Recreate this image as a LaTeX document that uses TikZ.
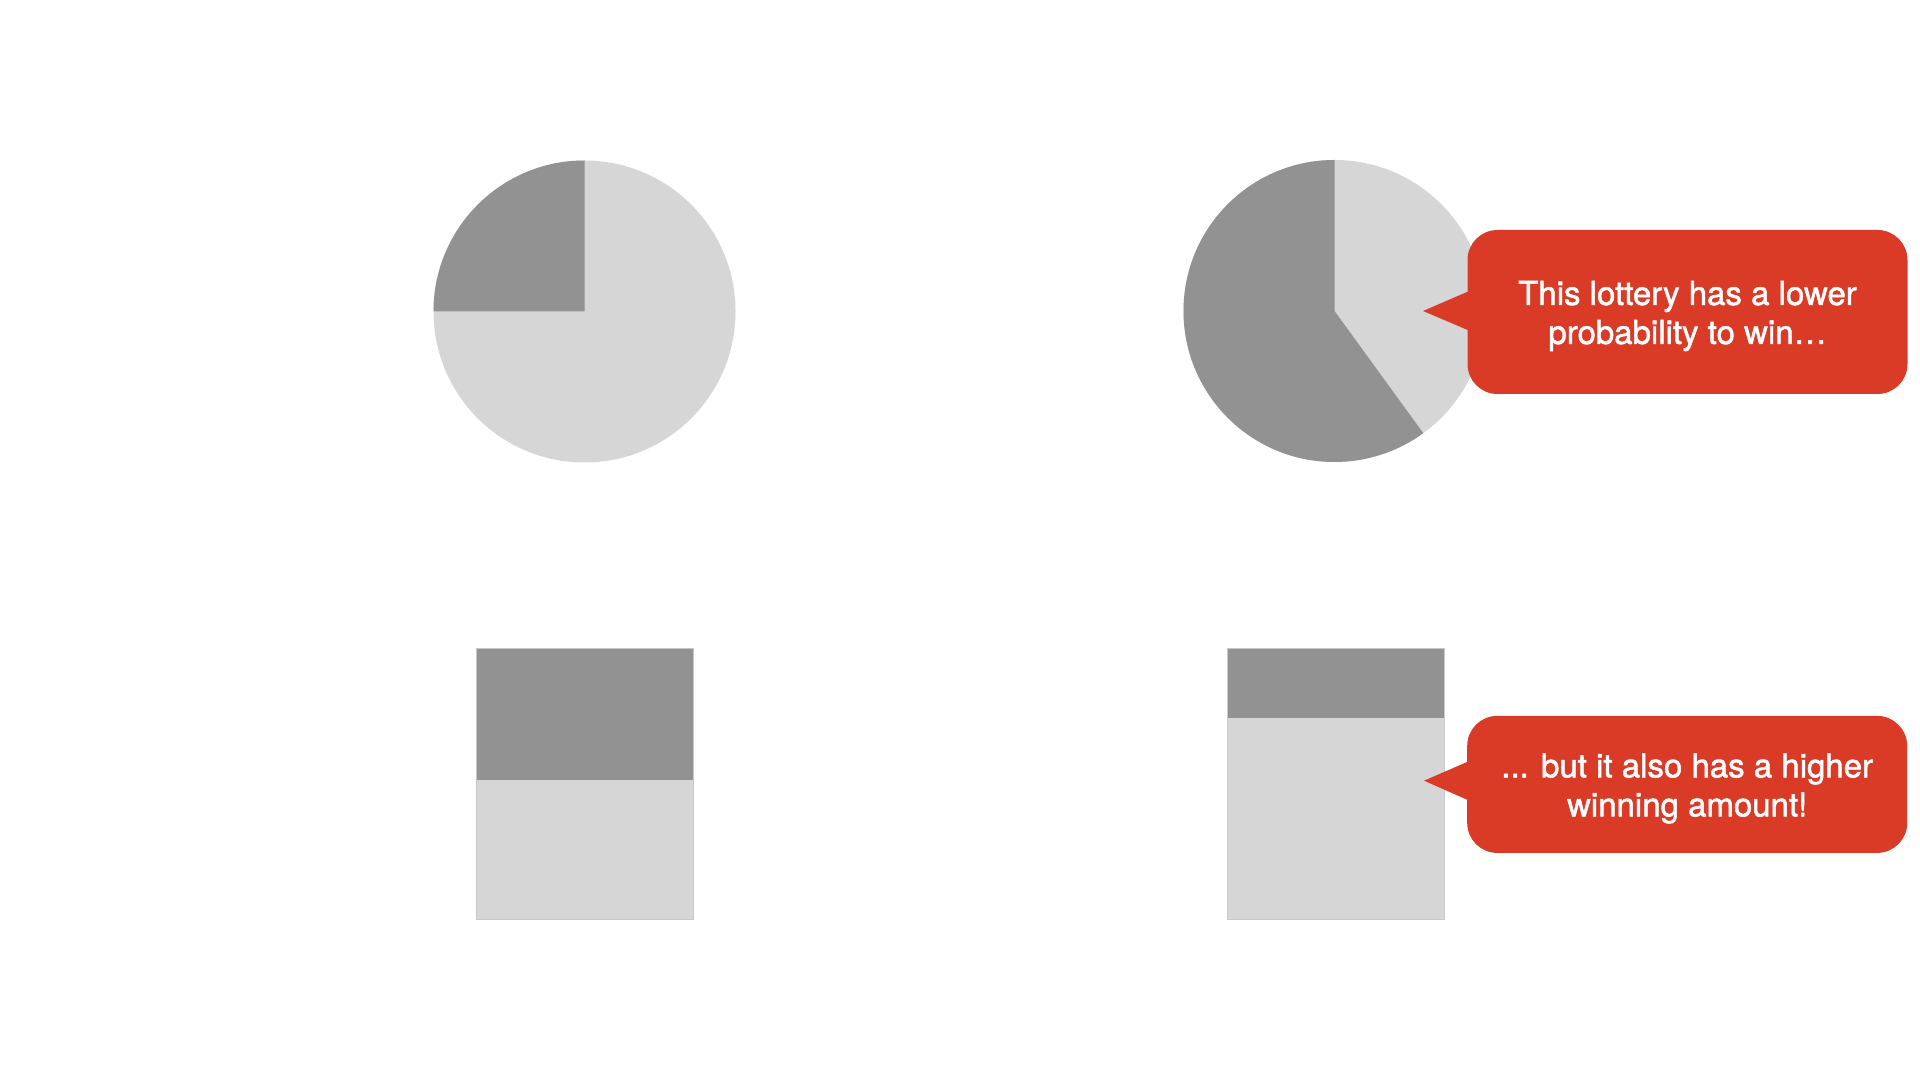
\documentclass[tikz,border=0pt]{standalone}
\usepackage{fontspec}
\setmainfont{TeX Gyre Heros}
\definecolor{pdark}{HTML}{929292}
\definecolor{plight}{HTML}{D6D6D6}
\definecolor{pedge}{HTML}{C8C8C8}
\definecolor{cred}{HTML}{DA3B27}
\begin{document}
\begin{tikzpicture}[x=1pt,y=1pt,
  darkfill/.style={fill=pdark},
  lightfill/.style={fill=plight},
  barframe/.style={draw=pedge,line width=1pt},
  callout/.style={fill=cred,rounded corners=30pt,inner sep=0pt,minimum width=440pt},
  callouttext/.style={text=white,align=center,inner sep=0pt,
    font=\fontsize{33}{39}\selectfont\addfontfeature{FakeBold=1.5}},
  pointer/.style={fill=cred}]
\useasboundingbox[fill=white] (0,0) rectangle (1920,1080);
% left pie
\coordinate (pc1) at (584.5,768.5);
\fill[lightfill] (pc1) circle[radius=151];
\fill[darkfill] (pc1) -- ++(90:151) arc[start angle=90,end angle=180,radius=151] -- cycle;
% right pie
\coordinate (pc2) at (1334.5,769);
\fill[lightfill] (pc2) circle[radius=151];
\fill[darkfill] (pc2) -- ++(90:151) arc[start angle=90,end angle=306,radius=151] -- cycle;
% left bar
\fill[lightfill] (476,160.5) rectangle (693,300);
\fill[darkfill] (476,300) rectangle (693,431);
\draw[barframe] (476,160.5) rectangle (693,431);
% right bar
\fill[lightfill] (1227,160.5) rectangle (1444,362);
\fill[darkfill] (1227,362) rectangle (1444,431);
\draw[barframe] (1227,160.5) rectangle (1444,431);
% callout 1
\node[callout,minimum height=164pt] (c1) at (1687.5,768) {};
\node[callouttext] (c1t) at ([yshift=-4pt]c1.center)
  {This lottery has a lower\\probability to win…};
\coordinate (t1) at (1423,769);
\fill[pointer] (1470,789.3) -- (t1) -- (1470,749) -- cycle;
% callout 2
\node[callout,minimum height=137pt] (c2) at (1687.2,295.6) {};
\node[callouttext] (c2t) at ([yshift=-4pt]c2.center)
  {... but it also has a higher\\winning amount!};
\coordinate (t2) at (1424,299.3);
\fill[pointer] (1470,319.3) -- (t2) -- (1470,279) -- cycle;
\end{tikzpicture}
\end{document}
